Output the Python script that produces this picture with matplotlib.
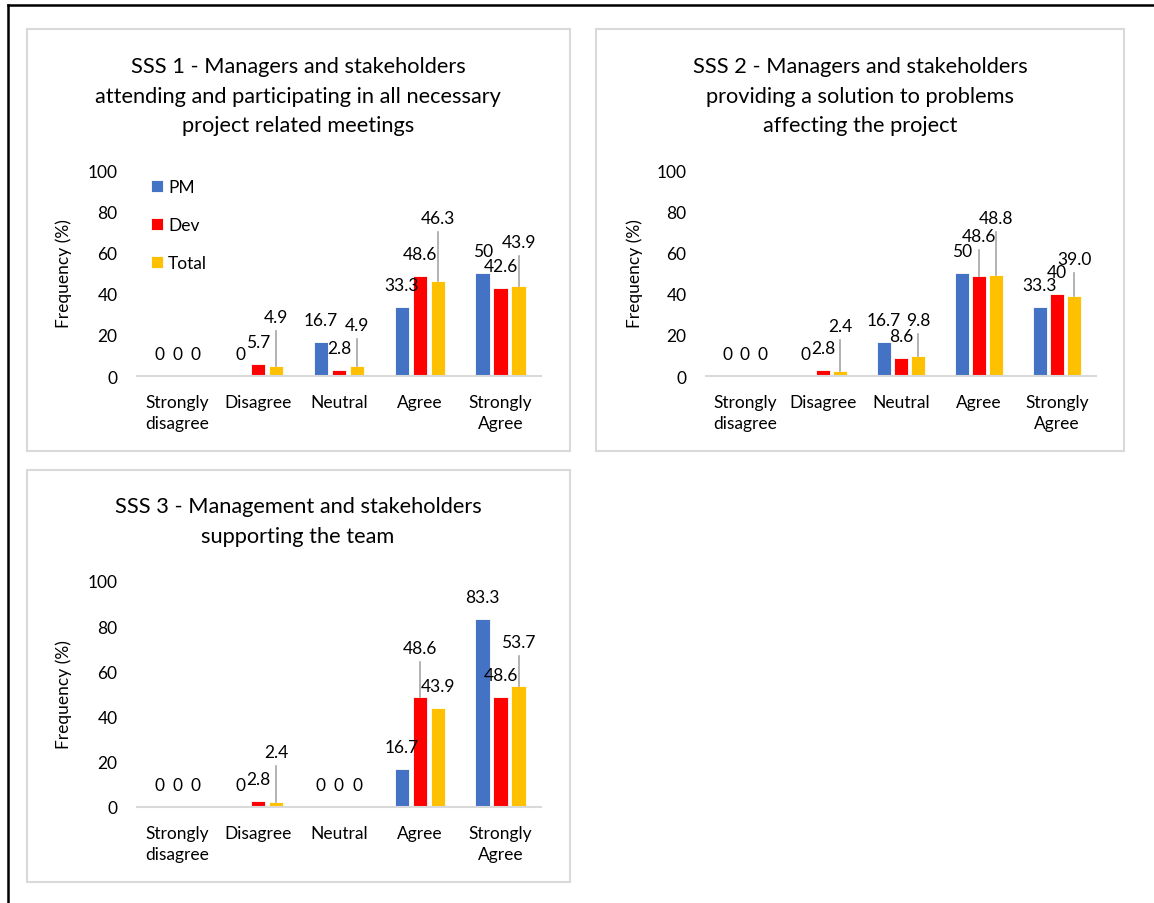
import matplotlib
matplotlib.use("Agg")
import matplotlib.pyplot as plt
from matplotlib.patches import Rectangle
from matplotlib.lines import Line2D
import numpy as np

plt.rcParams['font.family'] = ['Lato', 'DejaVu Sans']

categories = ["Strongly\ndisagree", "Disagree", "Neutral", "Agree", "Strongly\nAgree"]
series = ["PM", "Dev", "Total"]
colors = ["#4472C4", "#FF0000", "#FFC000"]

titles = [
    "SSS 1 - Managers and stakeholders\nattending and participating in all necessary\nproject related meetings",
    "SSS 2 - Managers and stakeholders\nproviding a solution to problems\naffecting the project",
    "SSS 3 - Management and stakeholders\nsupporting the team",
]

sss1_pm = [0, 0, 16.7, 33.3, 50]
sss1_dev = [0, 5.7, 2.8, 48.6, 42.6]
sss1_total = [0, 4.9, 4.9, 46.3, 43.9]

sss2_pm = [0, 0, 16.7, 50, 33.3]
sss2_dev = [0, 2.8, 8.6, 48.6, 40]
sss2_total = [0, 2.4, 9.8, 48.8, 39.0]

sss3_pm = [0, 0, 0, 16.7, 83.3]
sss3_dev = [0, 2.8, 0, 48.6, 48.6]
sss3_total = [0, 2.4, 0, 43.9, 53.7]

# labels lifted higher than usual, with a leader line: (series, category) -> height in px
lifted = [
    {(2, 1): 49, (2, 2): 41, (2, 3): 63, (2, 4): 44},
    {(2, 1): 45, (2, 2): 36, (1, 3): 40, (2, 3): 57, (2, 4): 37},
    {(2, 1): 50, (1, 3): 49, (2, 4): 44},
]

W, H = 1154, 904
fig = plt.figure(figsize=(W / 100, H / 100), dpi=100)

def px_box(x0, y0, x1, y1):
    return [x0 / W, 1 - y1 / H, (x1 - x0) / W, (y1 - y0) / H]

# outer frame
fig.add_artist(Line2D([8 / W, 1], [1 - 5.5 / H] * 2, color="black", lw=1.8, transform=fig.transFigure))
fig.add_artist(Line2D([8 / W] * 2, [0, 1 - 5.5 / H], color="black", lw=1.8, transform=fig.transFigure))

# chart area boxes
for (x0, y0, x1, y1) in [(26.5, 30, 570, 452), (596, 30, 1124, 452), (26.5, 471, 570, 883)]:
    b = px_box(x0, y0, x1, y1)
    fig.add_artist(Rectangle((b[0], b[1]), b[2], b[3], fill=False, ec="#d9d9d9", lw=1.5,
                             transform=fig.transFigure))

axes_px = [(137, 171, 541, 377), (706, 171, 1096, 377), (137, 582, 541, 808)]
title_top = [57, 57, 497]
title_x = [298, 860, 298]
data = [
    (sss1_pm, sss1_dev, sss1_total),
    (sss2_pm, sss2_dev, sss2_total),
    (sss3_pm, sss3_dev, sss3_total),
]

x = np.arange(len(categories))
offs = [-0.223, 0, 0.223]
width = 0.18
fs = 12.5

for k in range(3):
    ax = fig.add_axes(px_box(*axes_px[k]))
    y_px_per_unit = (axes_px[k][3] - axes_px[k][1]) / 100.0
    for s in range(3):
        vals = data[k][s]
        ax.bar(x + offs[s], vals, width, color=colors[s], edgecolor="white", linewidth=0.6,
               label=series[s], zorder=2)
        for c, v in enumerate(vals):
            txt = "{:.1f}".format(v) if (s == 2 and v != 0) else "{:g}".format(v)
            dy = lifted[k].get((s, c), 22)
            ax.annotate(txt, (x[c] + offs[s], v), xytext=(0, dy * 0.72), textcoords="offset points",
                        ha="center", va="center", fontsize=fs, color="#000000", zorder=4)
            if (s, c) in lifted[k]:
                top = v + (dy - 14) / y_px_per_unit
                ax.plot([x[c] + offs[s]] * 2, [v, top], color="#a6a6a6", lw=1.2, zorder=3)

    ax.set_xlim(-0.5, 4.5)
    ax.set_ylim(0, 100)
    ax.set_yticks([0, 20, 40, 60, 80, 100])
    ax.set_xticks(x)
    ax.set_xticklabels(categories, linespacing=1.4)
    ax.tick_params(axis="both", length=0, labelsize=fs, colors="#000000")
    ax.tick_params(axis="x", pad=13)
    ax.tick_params(axis="y", pad=14)
    for side in ["top", "right", "left"]:
        ax.spines[side].set_visible(False)
    ax.spines["bottom"].set_color("#d9d9d9")
    ax.spines["bottom"].set_linewidth(1.5)
    ax.set_ylabel("Frequency (%)", fontsize=fs)
    ax.yaxis.set_label_coords(-0.161, 0.5)

    fig.text(title_x[k] / W, 1 - title_top[k] / H, titles[k], ha="center", va="top",
             fontsize=15.7, linespacing=1.6)

    if k == 0:
        ax.legend(loc="upper left", bbox_to_anchor=(-0.005, 1.03), frameon=False, fontsize=fs,
                  handlelength=0.7, handleheight=0.7, handletextpad=0.3, labelspacing=1.25)

fig.savefig("out.png", dpi=100)
